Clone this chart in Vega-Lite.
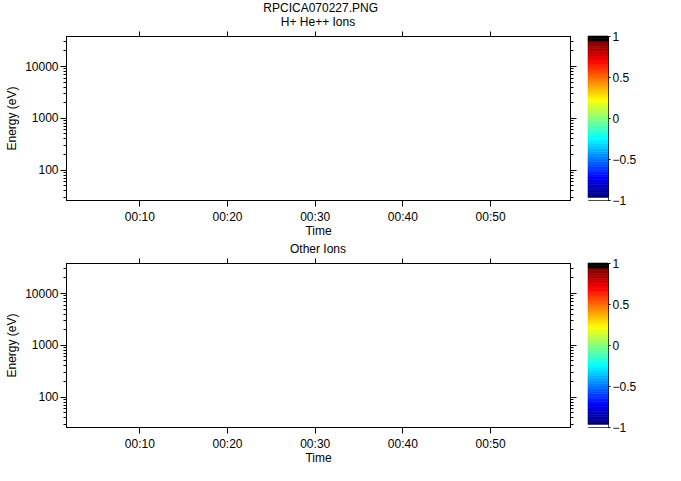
{
 "$schema": "https://vega.github.io/schema/vega-lite/v6.json",
 "background": "white",
 "padding": {"left": 5, "top": 2, "right": 5, "bottom": 5},
 "title": {"text": "RPCICA070227.PNG", "fontSize": 12, "fontWeight": "normal", "font": "Liberation Sans", "color": "black", "offset": 0, "anchor": "middle"},
 "config": {
  "font": "Liberation Sans",
  "view": {"stroke": "black", "strokeWidth": 1},
  "axis": {"domainColor": "black", "tickColor": "black", "labelColor": "black", "titleColor": "black", "labelFont": "Liberation Sans", "titleFont": "Liberation Sans", "labelFontSize": 12, "titleFontSize": 12, "titleFontWeight": "normal", "grid": false, "tickWidth": 1, "domainWidth": 1},
  "title": {"fontSize": 12, "fontWeight": "normal", "color": "black", "font": "Liberation Sans"}
 },
 "datasets": {
  "bar": [
   {"lo": -1, "hi": -0.96875}, {"lo": -0.96875, "hi": -0.9375}, {"lo": -0.9375, "hi": -0.90625}, {"lo": -0.90625, "hi": -0.875},
   {"lo": -0.875, "hi": -0.84375}, {"lo": -0.84375, "hi": -0.8125}, {"lo": -0.8125, "hi": -0.78125}, {"lo": -0.78125, "hi": -0.75},
   {"lo": -0.75, "hi": -0.71875}, {"lo": -0.71875, "hi": -0.6875}, {"lo": -0.6875, "hi": -0.65625}, {"lo": -0.65625, "hi": -0.625},
   {"lo": -0.625, "hi": -0.59375}, {"lo": -0.59375, "hi": -0.5625}, {"lo": -0.5625, "hi": -0.53125}, {"lo": -0.53125, "hi": -0.5},
   {"lo": -0.5, "hi": -0.46875}, {"lo": -0.46875, "hi": -0.4375}, {"lo": -0.4375, "hi": -0.40625}, {"lo": -0.40625, "hi": -0.375},
   {"lo": -0.375, "hi": -0.34375}, {"lo": -0.34375, "hi": -0.3125}, {"lo": -0.3125, "hi": -0.28125}, {"lo": -0.28125, "hi": -0.25},
   {"lo": -0.25, "hi": -0.21875}, {"lo": -0.21875, "hi": -0.1875}, {"lo": -0.1875, "hi": -0.15625}, {"lo": -0.15625, "hi": -0.125},
   {"lo": -0.125, "hi": -0.09375}, {"lo": -0.09375, "hi": -0.0625}, {"lo": -0.0625, "hi": -0.03125}, {"lo": -0.03125, "hi": 0},
   {"lo": 0, "hi": 0.03125}, {"lo": 0.03125, "hi": 0.0625}, {"lo": 0.0625, "hi": 0.09375}, {"lo": 0.09375, "hi": 0.125},
   {"lo": 0.125, "hi": 0.15625}, {"lo": 0.15625, "hi": 0.1875}, {"lo": 0.1875, "hi": 0.21875}, {"lo": 0.21875, "hi": 0.25},
   {"lo": 0.25, "hi": 0.28125}, {"lo": 0.28125, "hi": 0.3125}, {"lo": 0.3125, "hi": 0.34375}, {"lo": 0.34375, "hi": 0.375},
   {"lo": 0.375, "hi": 0.40625}, {"lo": 0.40625, "hi": 0.4375}, {"lo": 0.4375, "hi": 0.46875}, {"lo": 0.46875, "hi": 0.5},
   {"lo": 0.5, "hi": 0.53125}, {"lo": 0.53125, "hi": 0.5625}, {"lo": 0.5625, "hi": 0.59375}, {"lo": 0.59375, "hi": 0.625},
   {"lo": 0.625, "hi": 0.65625}, {"lo": 0.65625, "hi": 0.6875}, {"lo": 0.6875, "hi": 0.71875}, {"lo": 0.71875, "hi": 0.75},
   {"lo": 0.75, "hi": 0.78125}, {"lo": 0.78125, "hi": 0.8125}, {"lo": 0.8125, "hi": 0.84375}, {"lo": 0.84375, "hi": 0.875},
   {"lo": 0.875, "hi": 0.90625}, {"lo": 0.90625, "hi": 0.9375}, {"lo": 0.9375, "hi": 0.96875}, {"lo": 0.96875, "hi": 1}
  ]
 },
 "spacing": 5,
 "vconcat": [
  {
   "bounds": "flush",
   "spacing": 18,
   "hconcat": [
    {
     "title": {"text": "H+ He++ Ions", "offset": 2},
     "width": 504, "height": 164,
     "data": {"values": []},
     "layer": [
      {"mark": {"type": "point"}, "encoding": {
       "x": {"field": "time", "type": "temporal", "scale": {"type": "time", "nice": false, "domain": [{"year": 2007, "month": 2, "date": 27, "hours": 0, "minutes": 1, "seconds": 38}, {"year": 2007, "month": 2, "date": 27, "hours": 0, "minutes": 59, "seconds": 7}]},
        "axis": {"title": "Time", "format": "%H:%M", "tickSize": 6, "labelPadding": 5, "titlePadding": 3, "labelFlush": false,
         "values": [{"year": 2007, "month": 2, "date": 27, "hours": 0, "minutes": 10}, {"year": 2007, "month": 2, "date": 27, "hours": 0, "minutes": 20}, {"year": 2007, "month": 2, "date": 27, "hours": 0, "minutes": 30}, {"year": 2007, "month": 2, "date": 27, "hours": 0, "minutes": 40}, {"year": 2007, "month": 2, "date": 27, "hours": 0, "minutes": 50}]}},
       "y": {"field": "energy", "type": "quantitative", "scale": {"type": "log", "domain": [25.9, 38000], "nice": false},
        "axis": {"title": "Energy (eV)", "format": "d", "labelOverlap": false, "labelPadding": 2, "titlePadding": 6,
         "labelExpr": "datum.value == 100 || datum.value == 1000 || datum.value == 10000 ? datum.label : ''",
         "tickSize": {"condition": {"test": "datum.value == 100 || datum.value == 1000 || datum.value == 10000", "value": 6}, "value": 3},
         "values": [30, 40, 50, 60, 70, 80, 90, 100, 200, 300, 400, 500, 600, 700, 800, 900, 1000, 2000, 3000, 4000, 5000, 6000, 7000, 8000, 9000, 10000, 20000, 30000]}}
      }},
      {"mark": {"type": "point"}, "encoding": {
       "x": {"field": "time", "type": "temporal", "scale": {"type": "time", "nice": false, "domain": [{"year": 2007, "month": 2, "date": 27, "hours": 0, "minutes": 1, "seconds": 38}, {"year": 2007, "month": 2, "date": 27, "hours": 0, "minutes": 59, "seconds": 7}]},
        "axis": {"orient": "top", "labels": false, "title": null, "tickSize": 5,
         "values": [{"year": 2007, "month": 2, "date": 27, "hours": 0, "minutes": 10}, {"year": 2007, "month": 2, "date": 27, "hours": 0, "minutes": 20}, {"year": 2007, "month": 2, "date": 27, "hours": 0, "minutes": 30}, {"year": 2007, "month": 2, "date": 27, "hours": 0, "minutes": 40}, {"year": 2007, "month": 2, "date": 27, "hours": 0, "minutes": 50}]}},
       "y": {"field": "energy", "type": "quantitative", "scale": {"type": "log", "domain": [25.9, 38000], "nice": false},
        "axis": {"orient": "right", "labels": false, "title": null,
         "tickSize": {"condition": {"test": "datum.value == 100 || datum.value == 1000 || datum.value == 10000", "value": 6}, "value": 3},
         "values": [30, 40, 50, 60, 70, 80, 90, 100, 200, 300, 400, 500, 600, 700, 800, 900, 1000, 2000, 3000, 4000, 5000, 6000, 7000, 8000, 9000, 10000, 20000, 30000]}}
      }}
     ],
     "resolve": {"axis": {"x": "independent", "y": "independent"}}
    },
    {
     "width": 20, "height": 164,
     "data": {"name": "bar"},
     "mark": {"type": "rect", "strokeWidth": 0.6},
     "encoding": {
      "y": {"field": "lo", "type": "quantitative", "scale": {"domain": [-1, 1], "nice": false, "zero": false},
       "axis": {"orient": "right", "values": [-1, -0.5, 0, 0.5, 1], "title": null, "tickSize": 2, "labelPadding": 2, "domain": false, "labelFlush": false, "format": "~g"}},
      "y2": {"field": "hi"},
      "fill": {"field": "lo", "type": "quantitative", "legend": null,
       "scale": {"type": "linear", "interpolate": "rgb", "domain": [-1, -0.98, -0.96875, -0.734375, -0.265625, 0.203125, 0.671875, 0.90625, 0.92, 0.96875], "range": ["#ffffff", "#ffffff", "#000080", "#0000ff", "#00ffff", "#ffff00", "#ff0000", "#800000", "#000000", "#000000"]}},
      "stroke": {"field": "lo", "type": "quantitative", "legend": null,
       "scale": {"type": "linear", "interpolate": "rgb", "domain": [-1, -0.98, -0.96875, -0.734375, -0.265625, 0.203125, 0.671875, 0.90625, 0.92, 0.96875], "range": ["#ffffff", "#ffffff", "#000080", "#0000ff", "#00ffff", "#ffff00", "#ff0000", "#800000", "#000000", "#000000"]}}
     }
    }
   ]
  },
  {
   "bounds": "flush",
   "spacing": 18,
   "hconcat": [
    {
     "title": {"text": "Other Ions", "offset": 2},
     "width": 504, "height": 164,
     "data": {"values": []},
     "layer": [
      {"mark": {"type": "point"}, "encoding": {
       "x": {"field": "time", "type": "temporal", "scale": {"type": "time", "nice": false, "domain": [{"year": 2007, "month": 2, "date": 27, "hours": 0, "minutes": 1, "seconds": 38}, {"year": 2007, "month": 2, "date": 27, "hours": 0, "minutes": 59, "seconds": 7}]},
        "axis": {"title": "Time", "format": "%H:%M", "tickSize": 6, "labelPadding": 5, "titlePadding": 3, "labelFlush": false,
         "values": [{"year": 2007, "month": 2, "date": 27, "hours": 0, "minutes": 10}, {"year": 2007, "month": 2, "date": 27, "hours": 0, "minutes": 20}, {"year": 2007, "month": 2, "date": 27, "hours": 0, "minutes": 30}, {"year": 2007, "month": 2, "date": 27, "hours": 0, "minutes": 40}, {"year": 2007, "month": 2, "date": 27, "hours": 0, "minutes": 50}]}},
       "y": {"field": "energy", "type": "quantitative", "scale": {"type": "log", "domain": [25.9, 38000], "nice": false},
        "axis": {"title": "Energy (eV)", "format": "d", "labelOverlap": false, "labelPadding": 2, "titlePadding": 6,
         "labelExpr": "datum.value == 100 || datum.value == 1000 || datum.value == 10000 ? datum.label : ''",
         "tickSize": {"condition": {"test": "datum.value == 100 || datum.value == 1000 || datum.value == 10000", "value": 6}, "value": 3},
         "values": [30, 40, 50, 60, 70, 80, 90, 100, 200, 300, 400, 500, 600, 700, 800, 900, 1000, 2000, 3000, 4000, 5000, 6000, 7000, 8000, 9000, 10000, 20000, 30000]}}
      }},
      {"mark": {"type": "point"}, "encoding": {
       "x": {"field": "time", "type": "temporal", "scale": {"type": "time", "nice": false, "domain": [{"year": 2007, "month": 2, "date": 27, "hours": 0, "minutes": 1, "seconds": 38}, {"year": 2007, "month": 2, "date": 27, "hours": 0, "minutes": 59, "seconds": 7}]},
        "axis": {"orient": "top", "labels": false, "title": null, "tickSize": 5,
         "values": [{"year": 2007, "month": 2, "date": 27, "hours": 0, "minutes": 10}, {"year": 2007, "month": 2, "date": 27, "hours": 0, "minutes": 20}, {"year": 2007, "month": 2, "date": 27, "hours": 0, "minutes": 30}, {"year": 2007, "month": 2, "date": 27, "hours": 0, "minutes": 40}, {"year": 2007, "month": 2, "date": 27, "hours": 0, "minutes": 50}]}},
       "y": {"field": "energy", "type": "quantitative", "scale": {"type": "log", "domain": [25.9, 38000], "nice": false},
        "axis": {"orient": "right", "labels": false, "title": null,
         "tickSize": {"condition": {"test": "datum.value == 100 || datum.value == 1000 || datum.value == 10000", "value": 6}, "value": 3},
         "values": [30, 40, 50, 60, 70, 80, 90, 100, 200, 300, 400, 500, 600, 700, 800, 900, 1000, 2000, 3000, 4000, 5000, 6000, 7000, 8000, 9000, 10000, 20000, 30000]}}
      }}
     ],
     "resolve": {"axis": {"x": "independent", "y": "independent"}}
    },
    {
     "width": 20, "height": 164,
     "data": {"name": "bar"},
     "mark": {"type": "rect", "strokeWidth": 0.6},
     "encoding": {
      "y": {"field": "lo", "type": "quantitative", "scale": {"domain": [-1, 1], "nice": false, "zero": false},
       "axis": {"orient": "right", "values": [-1, -0.5, 0, 0.5, 1], "title": null, "tickSize": 2, "labelPadding": 2, "domain": false, "labelFlush": false, "format": "~g"}},
      "y2": {"field": "hi"},
      "fill": {"field": "lo", "type": "quantitative", "legend": null,
       "scale": {"type": "linear", "interpolate": "rgb", "domain": [-1, -0.98, -0.96875, -0.734375, -0.265625, 0.203125, 0.671875, 0.90625, 0.92, 0.96875], "range": ["#ffffff", "#ffffff", "#000080", "#0000ff", "#00ffff", "#ffff00", "#ff0000", "#800000", "#000000", "#000000"]}},
      "stroke": {"field": "lo", "type": "quantitative", "legend": null,
       "scale": {"type": "linear", "interpolate": "rgb", "domain": [-1, -0.98, -0.96875, -0.734375, -0.265625, 0.203125, 0.671875, 0.90625, 0.92, 0.96875], "range": ["#ffffff", "#ffffff", "#000080", "#0000ff", "#00ffff", "#ffff00", "#ff0000", "#800000", "#000000", "#000000"]}}
     }
    }
   ]
  }
 ]
}
